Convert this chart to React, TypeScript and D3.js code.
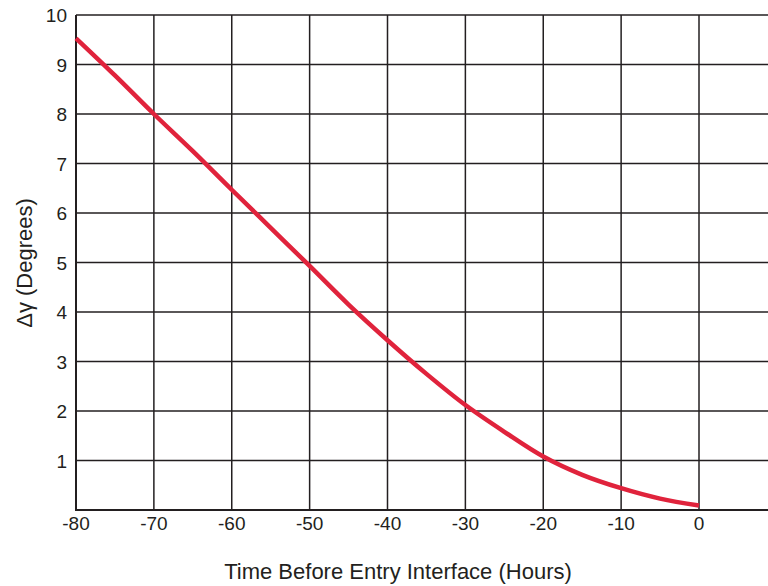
import * as d3 from 'd3'
import React, { useEffect, useRef } from 'react'

const hours = [-80, -75, -70, -65, -60, -55, -50, -45, -40, -35, -30, -25, -20, -15, -10, -5, 0]
const deltaGamma = [9.53, 8.78, 8.0, 7.25, 6.47, 5.7, 4.93, 4.15, 3.43, 2.75, 2.12, 1.58, 1.08, 0.71, 0.44, 0.23, 0.09]
const xTicks = [-80, -70, -60, -50, -40, -30, -20, -10, 0]
const yTicks = [1, 2, 3, 4, 5, 6, 7, 8, 9, 10]

export default function App() {
  const ref = useRef<SVGSVGElement>(null)

  useEffect(() => {
    const svg = d3.select(ref.current)
    svg.selectAll('*').remove()
    const font = 'Liberation Sans, Arial, Helvetica, sans-serif'
    const ink = '#231f20'

    const x = d3.scaleLinear().domain([-80, 0]).range([76, 699])
    const y = d3.scaleLinear().domain([0, 10]).range([510, 15])

    // horizontal grid
    svg
      .append('g')
      .selectAll('line')
      .data(yTicks)
      .join('line')
      .attr('x1', x(-80))
      .attr('x2', 768)
      .attr('y1', d => y(d))
      .attr('y2', d => y(d))
      .attr('stroke', ink)
      .attr('stroke-width', 1.5)

    // vertical grid
    svg
      .append('g')
      .selectAll('line')
      .data(xTicks)
      .join('line')
      .attr('x1', d => x(d))
      .attr('x2', d => x(d))
      .attr('y1', y(10))
      .attr('y2', y(0))
      .attr('stroke', ink)
      .attr('stroke-width', d => (d === -80 ? 2 : 1.5))

    // bottom axis line
    svg
      .append('line')
      .attr('x1', x(-80) - 1)
      .attr('x2', 768)
      .attr('y1', y(0))
      .attr('y2', y(0))
      .attr('stroke', ink)
      .attr('stroke-width', 2)

    // tick labels
    svg
      .append('g')
      .selectAll('text')
      .data(xTicks)
      .join('text')
      .attr('x', d => x(d))
      .attr('y', y(0) + 20)
      .attr('text-anchor', 'middle')
      .attr('font-family', font)
      .attr('font-size', 19)
      .attr('fill', ink)
      .text(d => d)

    svg
      .append('g')
      .selectAll('text')
      .data(yTicks)
      .join('text')
      .attr('x', x(-80) - 9)
      .attr('y', d => y(d) + 7)
      .attr('text-anchor', 'end')
      .attr('font-family', font)
      .attr('font-size', 19)
      .attr('fill', ink)
      .text(d => d)

    // curve
    const line = d3
      .line<number>()
      .x((d, i) => x(hours[i]))
      .y(d => y(d))
      .curve(d3.curveCatmullRom)

    svg
      .append('path')
      .datum(deltaGamma)
      .attr('d', line)
      .attr('fill', 'none')
      .attr('stroke', '#e0233c')
      .attr('stroke-width', 4.5)

    // axis titles
    svg
      .append('text')
      .attr('x', 398)
      .attr('y', 579)
      .attr('text-anchor', 'middle')
      .attr('font-family', font)
      .attr('font-size', 22)
      .attr('fill', ink)
      .text('Time Before Entry Interface (Hours)')

    svg
      .append('text')
      .attr('transform', 'translate(32,263) rotate(-90)')
      .attr('text-anchor', 'middle')
      .attr('font-family', font)
      .attr('font-size', 22)
      .attr('fill', ink)
      .text('Δγ (Degrees)')
  }, [])

  return (
    <svg
      ref={ref}
      width={768}
      height={586}
      style={{ position: 'absolute', left: 0, top: 0, background: '#fff' }}
    />
  )
}
